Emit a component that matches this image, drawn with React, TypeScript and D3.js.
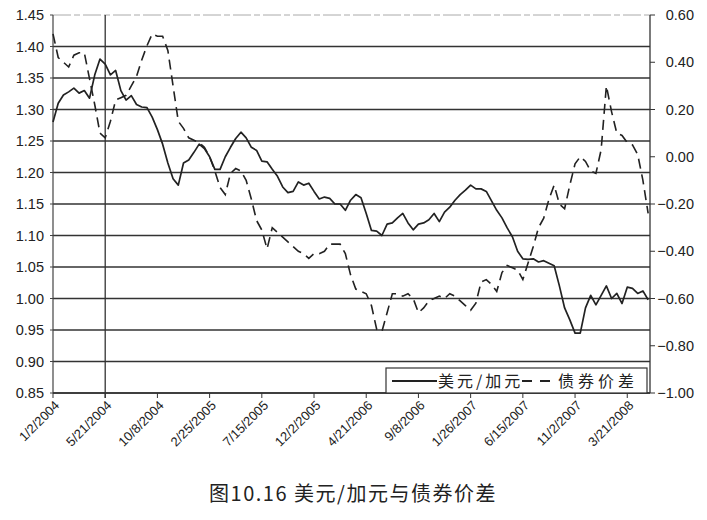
import * as d3 from "d3";

// sampled every two weeks starting 1/2/2004
const startDate = new Date(2004, 0, 2);
const endDate = new Date(2008, 4, 21);
const stepDays = 14;

const usdCad = [
  1.28, 1.31, 1.323, 1.328, 1.334, 1.326, 1.33, 1.318, 1.355, 1.38,
  1.372, 1.355, 1.362, 1.33, 1.315, 1.322, 1.308, 1.304, 1.303, 1.288,
  1.268, 1.245, 1.215, 1.19, 1.18, 1.215, 1.22, 1.232, 1.245, 1.238,
  1.225, 1.205, 1.205, 1.225, 1.24, 1.254, 1.264, 1.255, 1.24, 1.235,
  1.218, 1.217, 1.205, 1.194, 1.177, 1.168, 1.17, 1.185, 1.18, 1.183,
  1.17, 1.158, 1.161, 1.159, 1.15, 1.15, 1.14, 1.156, 1.165, 1.16,
  1.135, 1.108, 1.107, 1.1, 1.118, 1.12, 1.128, 1.135, 1.12, 1.109,
  1.118, 1.12, 1.125, 1.135, 1.122, 1.137, 1.145, 1.156, 1.165, 1.172,
  1.18, 1.174, 1.174, 1.17, 1.155, 1.14, 1.128, 1.112, 1.098, 1.075,
  1.063, 1.062, 1.063, 1.058, 1.06, 1.056, 1.052, 1.02, 0.985, 0.966,
  0.945, 0.945, 0.985, 1.005, 0.99, 1.005, 1.02, 1.0, 1.008, 0.992,
  1.018, 1.016, 1.008, 1.012, 0.998,
];

const bondSpread = [
  0.52, 0.42, 0.4, 0.38, 0.43, 0.44, 0.44, 0.33, 0.22, 0.1,
  0.08, 0.15, 0.24, 0.25, 0.26, 0.3, 0.34, 0.41, 0.47, 0.52,
  0.51, 0.51, 0.45, 0.3, 0.15, 0.12, 0.08, 0.07, 0.06, 0.04,
  0.0, -0.06, -0.13, -0.16, -0.07, -0.05, -0.06, -0.1, -0.18, -0.27,
  -0.31, -0.39, -0.3, -0.32, -0.34, -0.36, -0.38, -0.4, -0.41, -0.43,
  -0.41, -0.41, -0.4, -0.37, -0.37, -0.37, -0.41, -0.5, -0.56, -0.57,
  -0.58, -0.63, -0.73, -0.74, -0.66, -0.58, -0.58, -0.59, -0.58, -0.6,
  -0.66, -0.64, -0.61, -0.6, -0.59, -0.6, -0.58, -0.59, -0.61, -0.63,
  -0.65, -0.62, -0.53, -0.52, -0.54, -0.57, -0.49, -0.46, -0.47, -0.48,
  -0.52, -0.45, -0.38, -0.3, -0.26, -0.18, -0.12, -0.2, -0.22, -0.12,
  -0.03, 0.0, -0.02, -0.06, -0.07, 0.03, 0.3, 0.19, 0.1, 0.09,
  0.06, 0.05, 0.01, -0.1, -0.24,
];

const xTickLabels = [
  "1/2/2004", "5/21/2004", "10/8/2004", "2/25/2005", "7/15/2005", "12/2/2005",
  "4/21/2006", "9/8/2006", "1/26/2007", "6/15/2007", "11/2/2007", "3/21/2008",
];
const leftTicks = [0.85, 0.9, 0.95, 1.0, 1.05, 1.1, 1.15, 1.2, 1.25, 1.3, 1.35, 1.4, 1.45];
const rightTicks = [-1.0, -0.8, -0.6, -0.4, -0.2, 0.0, 0.2, 0.4, 0.6];
const markerDate = "5/21/2004";

const legendSolid = "美元/加元";
const legendDashed = "债券价差";
const caption = "图10.16 美元/加元与债券价差";

const parseDate = (s: string) => {
  const [m, d, y] = s.split("/").map(Number);
  return new Date(y, m - 1, d);
};

export default function App() {
  const width = 707;
  const height = 520;
  const plot = { left: 53, right: 650, top: 15, bottom: 393 };
  const ink = "#222";
  const numFont = "'Liberation Sans', Arial, sans-serif";
  const cjkFont = "'Noto Sans CJK SC', sans-serif";

  const x = d3.scaleTime().domain([startDate, endDate]).range([plot.left, plot.right]);
  const yL = d3.scaleLinear().domain([0.85, 1.45]).range([plot.bottom, plot.top]);
  const yR = d3.scaleLinear().domain([-1.0, 0.6]).range([plot.bottom, plot.top]);

  const dates = usdCad.map((_, i) => d3.timeDay.offset(startDate, i * stepDays));

  const solidLine = d3
    .line<number>()
    .x((_, i) => x(dates[i]))
    .y((d) => yL(d));
  const dashedLine = d3
    .line<number>()
    .x((_, i) => x(dates[i]))
    .y((d) => yR(d));

  const markerX = x(parseDate(markerDate));
  const legendY = 381;

  return (
    <svg
      width={width}
      height={height}
      style={{ position: "absolute", left: 0, top: 0, background: "#fff" }}
    >
      {/* grid */}
      {leftTicks.map((t) => (
        <line
          key={`g-${t}`}
          x1={plot.left}
          x2={plot.right}
          y1={yL(t)}
          y2={yL(t)}
          stroke={t === 1.45 ? "#aaa" : "#333"}
          strokeWidth={t === 1.45 ? 1 : 1.3}
          strokeDasharray={t === 1.45 ? "18 3 6 3" : undefined}
        />
      ))}

      {/* left axis */}
      <line x1={plot.left} x2={plot.left} y1={plot.top} y2={plot.bottom} stroke="#444" strokeWidth={1.2} />
      {leftTicks.map((t) => (
        <g key={`l-${t}`}>
          <line x1={plot.left - 3} x2={plot.left} y1={yL(t)} y2={yL(t)} stroke="#444" />
          <text
            x={plot.left - 9}
            y={yL(t)}
            dy="0.35em"
            textAnchor="end"
            fontSize={14.5}
            fontFamily={numFont}
            fill={ink}
          >
            {t.toFixed(2)}
          </text>
        </g>
      ))}

      {/* right axis */}
      <line x1={plot.right} x2={plot.right} y1={plot.top} y2={plot.bottom} stroke="#333" strokeWidth={1.3} />
      {rightTicks.map((t) => (
        <g key={`r-${t}`}>
          <line x1={plot.right} x2={plot.right + 5} y1={yR(t)} y2={yR(t)} stroke="#333" />
          <text
            x={694}
            y={yR(t)}
            dy="0.35em"
            textAnchor="end"
            fontSize={14.5}
            fontFamily={numFont}
            fill={ink}
          >
            {t < 0 ? "\u2212" + Math.abs(t).toFixed(2) : t.toFixed(2)}
          </text>
        </g>
      ))}

      {/* bottom axis */}
      <line x1={plot.left} x2={plot.right} y1={plot.bottom} y2={plot.bottom} stroke="#333" strokeWidth={1.3} />
      {xTickLabels.map((s) => {
        const tx = x(parseDate(s));
        return (
          <g key={`x-${s}`}>
            <line x1={tx} x2={tx} y1={plot.bottom} y2={plot.bottom + 5} stroke="#333" />
            <text
              transform={`translate(${tx + 4},${plot.bottom + 10}) rotate(-45)`}
              textAnchor="end"
              dy="0.35em"
              fontSize={13}
              fontFamily={numFont}
              fill={ink}
            >
              {s}
            </text>
          </g>
        );
      })}

      {/* vertical marker line */}
      <line x1={markerX} x2={markerX} y1={plot.top} y2={plot.bottom + 5} stroke="#333" strokeWidth={1.3} />

      {/* series */}
      <path d={dashedLine(bondSpread) || undefined} fill="none" stroke={ink} strokeWidth={1.6} strokeDasharray="10 6" />
      <path d={solidLine(usdCad) || undefined} fill="none" stroke={ink} strokeWidth={1.7} strokeLinejoin="round" />

      {/* legend */}
      <g>
        <rect x={386} y={368} width={261} height={25} fill="#fff" stroke="#333" strokeWidth={1.2} />
        <line x1={392} x2={437} y1={legendY} y2={legendY} stroke={ink} strokeWidth={2} />
        <text x={438} y={legendY} dy="0.36em" fontSize={16} fontFamily={cjkFont} fill={ink} letterSpacing={3}>
          {legendSolid}
        </text>
        <line x1={522} x2={553} y1={legendY} y2={legendY} stroke={ink} strokeWidth={2} strokeDasharray="10 8" />
        <text x={558} y={legendY} dy="0.36em" fontSize={16} fontFamily={cjkFont} fill={ink} letterSpacing={4}>
          {legendDashed}
        </text>
      </g>

      {/* caption */}
      <text
        x={353}
        y={494}
        dy="0.35em"
        textAnchor="middle"
        fontSize={20}
        fontFamily={cjkFont}
        fill={ink}
        letterSpacing={1.5}
      >
        {caption}
      </text>
    </svg>
  );
}
